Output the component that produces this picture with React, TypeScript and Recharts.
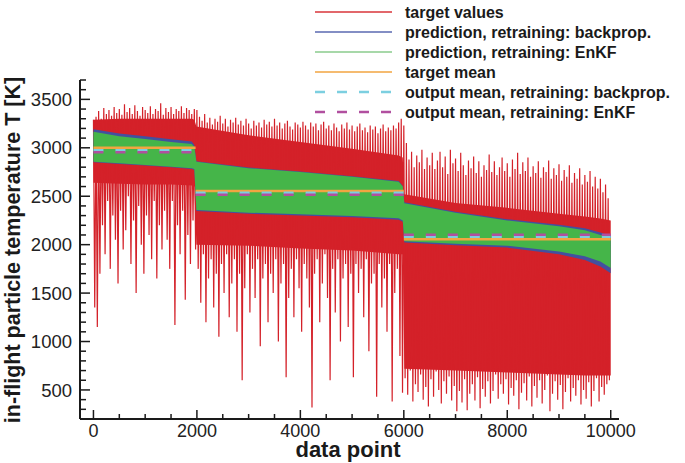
import {
  ComposedChart,
  Line,
  Area,
  XAxis,
  YAxis,
  ReferenceLine,
} from 'recharts';

const FONT = '"Liberation Sans", Arial, Helvetica, sans-serif';

const RED = '#d42129';
const BLUE = '#43509f';
const GREEN = '#45b549';
const ORANGE = '#f2a541';
const CYAN = '#7ccfe0';
const MAGENTA = '#b14f9f';

// target values read every 25th data point (upper / lower excursions alternate)
const TARGET_STEP = 25;
const targetSeg1 = [
  3290, 1350, 3320, 1150, 3380, 1700, 3300, 2200, 3410, 1900, 3350, 2450, 3390, 1750, 3330, 2300, 3420, 2050, 3360, 1600,
  3400, 2350, 3340, 1950, 3450, 2150, 3370, 2500, 3410, 1800, 3350, 2250, 3440, 1500, 3380, 2400, 3330, 2000, 3420, 1700,
  3390, 2300, 3360, 2100, 3430, 1850, 3350, 2450, 3400, 1650, 3380, 2200, 3460, 1950, 3340, 2350, 3410, 2050, 3370, 1750,
  3420, 2450, 3350, 1170, 3400, 2200, 3380, 1900, 3430, 2350, 3360, 1430, 3410, 2100, 3390, 1800, 3350, 2250, 3400, 1950,
];
const targetSeg2 = [
  3390, 1750, 3320, 1400, 3280, 1900, 3350, 1200, 3260, 1650, 3310, 1850, 3240, 1350, 3300, 1700, 3270, 1050, 3330, 1800,
  3250, 1500, 3300, 1900, 3220, 1250, 3290, 1600, 3260, 1850, 3310, 1100, 3240, 1700, 3280, 600, 3230, 1550, 3300, 1900,
  3250, 1300, 3200, 1750, 3280, 1450, 3230, 1850, 3260, 950, 3210, 1650, 3290, 1800, 3240, 1200, 3270, 1700, 3220, 1500,
  3300, 1850, 3230, 1000, 3260, 1600, 3200, 1800, 3250, 630, 3280, 1450, 3220, 1750, 3190, 1250, 3260, 1850, 3240, 1550,
  3210, 1100, 3270, 1800, 3230, 1650, 3190, 1350, 3260, 320, 3220, 1700, 3250, 1850, 3180, 1200, 3240, 1600, 3270, 1900,
  3200, 1450, 3230, 600, 3180, 1750, 3250, 1300, 3210, 1850, 3170, 1000, 3240, 1650, 3200, 1800, 3260, 1150, 3190, 1700,
  3230, 630, 3170, 1800, 3220, 1500, 3250, 1750, 3180, 1250, 3210, 1850, 3160, 900, 3230, 1600, 3190, 1700, 3220, 430,
  3150, 1800, 3200, 1350, 3240, 1650, 3170, 1100, 3210, 1800, 3180, 380, 3230, 1500, 3200, 1750, 3260, 850, 3300, 470,
];
const targetSeg3 = [
  3230, 620, 3050, 450, 2880, 700, 2960, 380, 2800, 560, 2920, 480, 2850, 660, 2980, 400, 2780, 530, 2900, 330,
  2820, 610, 2950, 430, 2780, 690, 2870, 500, 2960, 360, 2800, 590, 2910, 460, 2730, 640, 2980, 390, 2840, 540,
  2890, 280, 2760, 490, 2950, 370, 2820, 610, 2720, 290, 2870, 460, 2790, 560, 2910, 390, 2740, 630, 2860, 310,
  2700, 510, 2820, 430, 2770, 590, 2930, 360, 2750, 490, 2860, 660, 2720, 410, 2800, 560, 2900, 460, 2760, 610,
  2840, 350, 2700, 520, 2880, 440, 2780, 600, 2950, 300, 2730, 470, 2850, 570, 2760, 390, 2900, 640, 2700, 330,
  2810, 540, 2740, 420, 2860, 600, 2690, 360, 2800, 500, 2750, 650, 2870, 280, 2680, 460, 2790, 590, 2720, 400,
  2830, 550, 2660, 300, 2770, 480, 2700, 620, 2820, 380, 2640, 520, 2740, 440, 2680, 600, 2790, 350, 2620, 500,
  2720, 410, 2650, 580, 2760, 330, 2600, 490, 2700, 620, 2580, 380, 2680, 530, 2540, 450, 2620, 560, 2480, 600,
];

// envelopes of the dense parts of the series
const bandX = [0, 500, 1000, 1500, 1900, 1950, 1990, 3000, 4000, 5000, 5900, 5980, 6010, 7000, 8000, 9000, 9500, 9800, 10000];
const targetCoreHi = [3290, 3300, 3300, 3300, 3300, 3290, 3220, 3130, 3060, 2990, 2920, 2900, 2520, 2430, 2380, 2320, 2290, 2270, 2250];
const targetCoreLo = [2640, 2630, 2620, 2620, 2610, 2600, 2000, 1990, 1960, 1940, 1900, 1900, 720, 700, 680, 660, 650, 650, 650];
const backpropHi = [3192, 3148, 3118, 3088, 3066, 3030, 2862, 2796, 2756, 2706, 2656, 2606, 2437, 2340, 2262, 2205, 2170, 2125, 2092];
const backpropLo = [2850, 2834, 2816, 2798, 2782, 2770, 2348, 2318, 2302, 2282, 2258, 2236, 2022, 1994, 1970, 1902, 1842, 1775, 1705];
const enkfHi = [3166, 3120, 3090, 3060, 3040, 3010, 2856, 2790, 2750, 2700, 2650, 2600, 2427, 2330, 2250, 2190, 2150, 2100, 2070];
const enkfLo = [2856, 2840, 2822, 2805, 2790, 2780, 2358, 2330, 2315, 2295, 2272, 2250, 2035, 2010, 1990, 1930, 1880, 1825, 1760];

// the three windows and their means
const windowStart = [0, 1975, 6000];
const windowEnd = [1975, 6000, 10000];
const targetMean = [3000, 2555, 2055];
const backpropMean = [2975, 2535, 2082];
const enkfMean = [2955, 2515, 2102];

const xTicks = [0, 500, 1000, 1500, 2000, 2500, 3000, 3500, 4000, 4500, 5000, 5500, 6000, 6500, 7000, 7500, 8000, 8500, 9000, 9500, 10000];
const xTickLabels = [0, 2000, 4000, 6000, 8000, 10000];
const yTicks = [
  300, 400, 500, 600, 700, 800, 900, 1000, 1100, 1200, 1300, 1400, 1500, 1600, 1700, 1800, 1900, 2000,
  2100, 2200, 2300, 2400, 2500, 2600, 2700, 2800, 2900, 3000, 3100, 3200, 3300, 3400, 3500, 3600, 3700,
];
const yTickLabels = [500, 1000, 1500, 2000, 2500, 3000, 3500];

const legendItems = [
  { label: 'target values', color: '#d9343a', dash: undefined },
  { label: 'prediction, retraining: backprop.', color: '#5a68b0', dash: undefined },
  { label: 'prediction, retraining: EnKF', color: '#8acb8d', dash: undefined },
  { label: 'target mean', color: ORANGE, dash: undefined },
  { label: 'output mean, retraining: backprop.', color: CYAN, dash: '10 12' },
  { label: 'output mean, retraining: EnKF', color: MAGENTA, dash: '10 12' },
];

const targetRows = [...targetSeg1, ...targetSeg2, ...targetSeg3].map((v, i) => ({
  x: i * TARGET_STEP,
  target: v,
}));

const bandRows = bandX.map((x, i) => ({
  x,
  core: [targetCoreLo[i], targetCoreHi[i]],
  backprop: [backpropLo[i], backpropHi[i]],
  enkf: [enkfLo[i], enkfHi[i]],
}));

const AXIS = '#1a1a1a';

// eslint-disable-next-line @typescript-eslint/no-explicit-any
const XTick = ({ x, y, payload }: any) => {
  const major = xTickLabels.includes(payload.value);
  return (
    <g>
      <line x1={x} x2={x} y1={y} y2={y - (major ? 9 : 5)} stroke={AXIS} strokeWidth={1.5} />
      {major && (
        <text x={x} y={y + 18} textAnchor="middle" fill="#222" fontSize={18} fontFamily={FONT}>
          {payload.value}
        </text>
      )}
    </g>
  );
};

// eslint-disable-next-line @typescript-eslint/no-explicit-any
const YTick = ({ x, y, payload }: any) => {
  const major = yTickLabels.includes(payload.value);
  return (
    <g>
      <line x1={x} x2={x + (major ? 10 : 6)} y1={y} y2={y} stroke={AXIS} strokeWidth={1.5} />
      {major && (
        <text x={x - 8} y={y} dy="0.36em" textAnchor="end" fill="#222" fontSize={18.5} fontFamily={FONT}>
          {payload.value}
        </text>
      )}
    </g>
  );
};

export default function App() {
  return (
    <div style={{ position: 'absolute', left: 0, top: 0, width: 685, height: 463, background: '#fff' }}>
      <ComposedChart
        width={685}
        height={463}
        data={targetRows}
        margin={{ top: 80, right: 66, bottom: 0, left: 0 }}
      >
        <XAxis
          dataKey="x"
          type="number"
          domain={[-260, 10160]}
          allowDataOverflow
          ticks={xTicks}
          interval={0}
          height={44}
          tickSize={0}
          tickMargin={0}
          tickLine={false}
          tick={<XTick />}
          axisLine={{ stroke: AXIS, strokeWidth: 2 }}
        />
        <YAxis
          type="number"
          domain={[200, 3700]}
          allowDataOverflow
          ticks={yTicks}
          interval={0}
          width={80}
          tickSize={0}
          tickMargin={0}
          tickLine={false}
          tick={<YTick />}
          axisLine={{ stroke: AXIS, strokeWidth: 2 }}
        />

        <Area
          data={bandRows}
          dataKey="core"
          type="linear"
          fill={RED}
          fillOpacity={1}
          stroke="none"
          isAnimationActive={false}
          zIndex={100}
        />
        <Line
          dataKey="target"
          type="linear"
          stroke={RED}
          strokeWidth={1.2}
          dot={false}
          activeDot={false}
          isAnimationActive={false}
          zIndex={110}
        />
        <Area
          data={bandRows}
          dataKey="backprop"
          type="linear"
          fill={BLUE}
          fillOpacity={1}
          stroke="none"
          isAnimationActive={false}
          zIndex={120}
        />
        <Area
          data={bandRows}
          dataKey="enkf"
          type="linear"
          fill={GREEN}
          fillOpacity={1}
          stroke="none"
          isAnimationActive={false}
          zIndex={130}
        />

        {windowStart.map((s, i) => (
          <ReferenceLine
            key={`tm${i}`}
            segment={[{ x: s, y: targetMean[i] }, { x: windowEnd[i], y: targetMean[i] }]}
            stroke={ORANGE}
            strokeWidth={2.5}
            zIndex={140}
          />
        ))}
        {windowStart.map((s, i) => (
          <ReferenceLine
            key={`bm${i}`}
            segment={[{ x: s, y: backpropMean[i] }, { x: windowEnd[i], y: backpropMean[i] }]}
            stroke={CYAN}
            strokeWidth={2.5}
            strokeDasharray="10 12"
            zIndex={150}
          />
        ))}
        {windowStart.map((s, i) => (
          <ReferenceLine
            key={`em${i}`}
            segment={[{ x: s, y: enkfMean[i] }, { x: windowEnd[i], y: enkfMean[i] }]}
            stroke={MAGENTA}
            strokeWidth={2.5}
            strokeDasharray="10 12"
            zIndex={160}
          />
        ))}
      </ComposedChart>

      <svg
        width={685}
        height={463}
        style={{ position: 'absolute', left: 0, top: 0, pointerEvents: 'none' }}
      >
        {legendItems.map((item, i) => {
          const cy = 12 + i * 20;
          return (
            <g key={item.label}>
              <line
                x1={315}
                x2={392}
                y1={cy}
                y2={cy}
                stroke={item.color}
                strokeWidth={item.dash ? 2.5 : 1.6}
                strokeDasharray={item.dash}
              />
              <text x={405} y={cy} dy="0.36em" fontSize={16} fontWeight="bold" fill="#1a1a1a" fontFamily={FONT}>
                {item.label}
              </text>
            </g>
          );
        })}
        <text x={348} y={457} textAnchor="middle" fontSize={22} fontWeight="bold" fill="#1a1a1a" fontFamily={FONT}>
          data point
        </text>
        <text
          x={20}
          y={250}
          transform="rotate(-90 20 250)"
          textAnchor="middle"
          fontSize={21.5}
          fontWeight="bold"
          fill="#1a1a1a"
          fontFamily={FONT}
        >
          in-flight particle temperature T [K]
        </text>
      </svg>
    </div>
  );
}
